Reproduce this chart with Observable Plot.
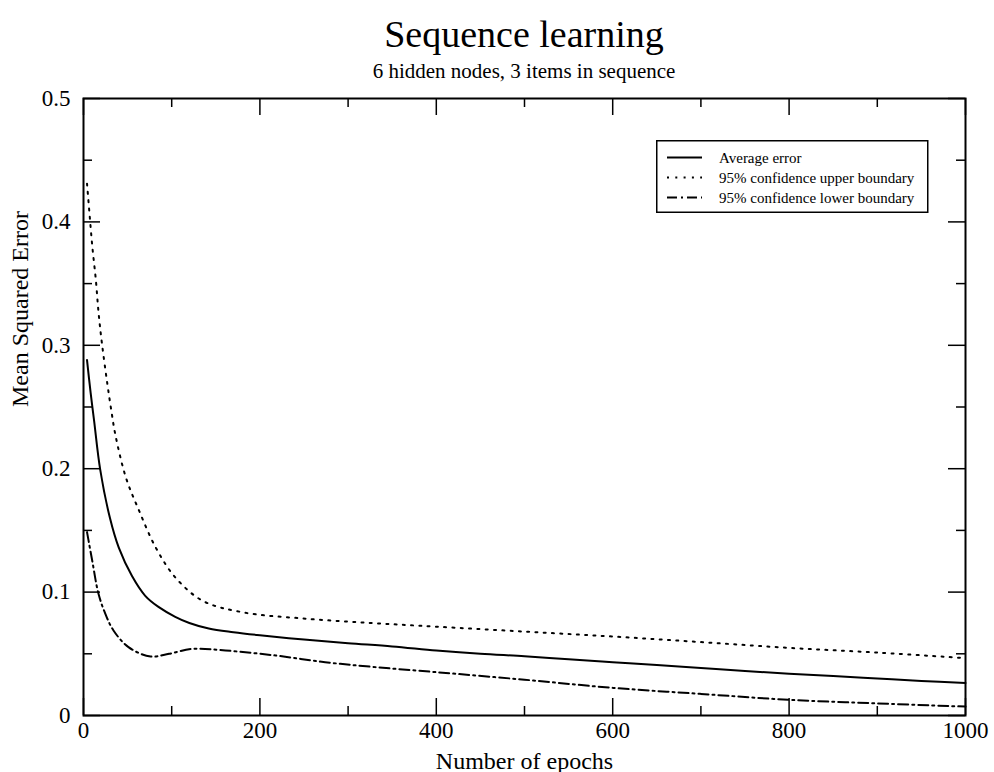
<!DOCTYPE html>
<html><head><meta charset="utf-8">
<script src="https://cdn.jsdelivr.net/npm/d3@7"></script>
<script src="https://cdn.jsdelivr.net/npm/@observablehq/plot@0.6"></script>
<style>
body{margin:0;background:#fff;font-family:"Liberation Serif","Times New Roman",serif;}
#wrap{position:relative;width:994px;height:772px;overflow:hidden;background:#fff;}
#title{position:absolute;z-index:2;left:83px;width:882px;top:15px;text-align:center;font-size:38px;line-height:38px;}
#subtitle{position:absolute;z-index:2;left:83px;width:882px;top:61px;text-align:center;font-size:21px;line-height:21px;}
#chart{position:absolute;z-index:1;left:0;top:78px;}
#legend{position:absolute;z-index:3;left:656px;top:140px;}
</style></head><body>
<div id="wrap">
<div id="title">Sequence learning</div>
<div id="subtitle">6 hidden nodes, 3 items in sequence</div>
<div id="chart"></div>
<div id="legend"></div>
</div>
<script>
// ---- data ----
const avgEpochs = [4, 8, 12, 19, 30, 40, 55, 70, 85, 104, 120, 142, 170, 200, 250, 300, 350, 400, 450, 500, 550, 600, 650, 700, 750, 800, 850, 900, 950, 1000];
const avgError  = [0.288, 0.262, 0.239, 0.199, 0.160, 0.136, 0.113, 0.097, 0.088, 0.080, 0.075, 0.0705, 0.0675, 0.065, 0.0615, 0.0586, 0.056, 0.0527, 0.050, 0.048, 0.0455, 0.0432, 0.041, 0.0385, 0.036, 0.0338, 0.032, 0.030, 0.028, 0.0263];

const upperEpochs = [4, 7, 10, 14, 17, 21, 27, 32, 36, 48, 63, 82, 104, 135, 180, 255, 330, 400, 500, 600, 700, 800, 900, 1000];
const upperBound  = [0.431, 0.405, 0.380, 0.353, 0.327, 0.301, 0.269, 0.245, 0.228, 0.193, 0.166, 0.136, 0.112, 0.093, 0.0837, 0.0783, 0.0748, 0.072, 0.068, 0.064, 0.0595, 0.0548, 0.051, 0.0465];

const lowerEpochs = [4, 10, 17, 25, 34, 51, 76, 97, 123, 161, 218, 274, 331, 400, 500, 600, 700, 800, 900, 1000];
const lowerBound  = [0.1486, 0.125, 0.0986, 0.082, 0.0689, 0.0554, 0.0478, 0.050, 0.054, 0.0527, 0.0486, 0.0432, 0.0392, 0.0351, 0.029, 0.0224, 0.0175, 0.0127, 0.0098, 0.0072];

const xMajorTicks = [0, 200, 400, 600, 800, 1000];
const xMinorTicks = [100, 300, 500, 700, 900];
const yMajorTicks = [0, 0.1, 0.2, 0.3, 0.4, 0.5];
const yMinorTicks = [0.05, 0.15, 0.25, 0.35, 0.45];

const seriesNames = ["Average error", "95% confidence upper boundary", "95% confidence lower boundary"];
const seriesDash = [null, "2,6.3", "10,4,2,4"];

// ---- build ----
const zip = (xs, ys) => xs.map((x, i) => ({x, y: ys[i]}));
const avgData = zip(avgEpochs, avgError);
const upData = zip(upperEpochs, upperBound);
const loData = zip(lowerEpochs, lowerBound);

const W = 994, H = 694, mL = 83, mR = 29, mT = 20, mB = 57;
const pw = W - mL - mR, ph = H - mT - mB;
const majLen = 17, minLen = 9;
const curve = "catmull-rom";

const chart = Plot.plot({
  width: W, height: H,
  marginLeft: mL, marginRight: mR, marginTop: mT, marginBottom: mB,
  style: {fontFamily: "'Liberation Serif','Times New Roman',serif", fontSize: "23px", background: "transparent", color: "black", overflow: "visible"},
  x: {domain: [0, 1000]},
  y: {domain: [0, 0.5]},
  marks: [
    Plot.line(avgData, {x: "x", y: "y", curve, stroke: "black", strokeWidth: 2}),
    Plot.line(upData, {x: "x", y: "y", curve, stroke: "black", strokeWidth: 2, strokeDasharray: seriesDash[1]}),
    Plot.line(loData, {x: "x", y: "y", curve, stroke: "black", strokeWidth: 2, strokeDasharray: seriesDash[2]}),
    // inward ticks on all four sides
    Plot.tickX(xMajorTicks, {x: d => d, insetTop: ph - majLen, stroke: "black", strokeWidth: 1.5}),
    Plot.tickX(xMajorTicks, {x: d => d, insetBottom: ph - majLen, stroke: "black", strokeWidth: 1.5}),
    Plot.tickX(xMinorTicks, {x: d => d, insetTop: ph - minLen, stroke: "black", strokeWidth: 1.5}),
    Plot.tickX(xMinorTicks, {x: d => d, insetBottom: ph - minLen, stroke: "black", strokeWidth: 1.5}),
    Plot.tickY(yMajorTicks, {y: d => d, insetRight: pw - majLen, stroke: "black", strokeWidth: 1.5}),
    Plot.tickY(yMajorTicks, {y: d => d, insetLeft: pw - majLen, stroke: "black", strokeWidth: 1.5}),
    Plot.tickY(yMinorTicks, {y: d => d, insetRight: pw - minLen, stroke: "black", strokeWidth: 1.5}),
    Plot.tickY(yMinorTicks, {y: d => d, insetLeft: pw - minLen, stroke: "black", strokeWidth: 1.5}),
    Plot.frame({stroke: "black", strokeWidth: 2}),
    Plot.axisX(xMajorTicks, {tickSize: 0, tickPadding: 6, fontSize: 23, label: null, tickFormat: d => String(d)}),
    Plot.axisY(yMajorTicks, {tickSize: 0, tickPadding: 13, fontSize: 23, label: null,
      tickFormat: d => d === 0 ? "0" : d.toFixed(1)}),
    Plot.text(["Number of epochs"], {text: d => d, frameAnchor: "bottom", dy: 53, lineAnchor: "bottom", fontSize: 24}),
    Plot.text(["Mean Squared Error"], {text: d => d, frameAnchor: "left", dx: -63, rotate: -90, fontSize: 24})
  ]
});
document.getElementById("chart").appendChild(chart);

// ---- legend (inside plot, top-right) ----
const lg = d3.select("#legend").append("svg").attr("width", 274).attr("height", 75);
lg.append("rect").attr("x", 0.75).attr("y", 0.75).attr("width", 271).attr("height", 71.5)
  .attr("fill", "white").attr("stroke", "black").attr("stroke-width", 1.5);
seriesNames.forEach((name, i) => {
  const yy = 17.5 + i * 20;
  const ln = lg.append("line").attr("x1", 11).attr("x2", 46).attr("y1", yy).attr("y2", yy)
    .attr("stroke", "black").attr("stroke-width", 2);
  if (seriesDash[i]) ln.attr("stroke-dasharray", seriesDash[i]);
  lg.append("text").attr("x", 63).attr("y", yy + 5).text(name)
    .attr("font-family", "'Liberation Serif','Times New Roman',serif").attr("font-size", 15);
});
</script>
</body></html>
